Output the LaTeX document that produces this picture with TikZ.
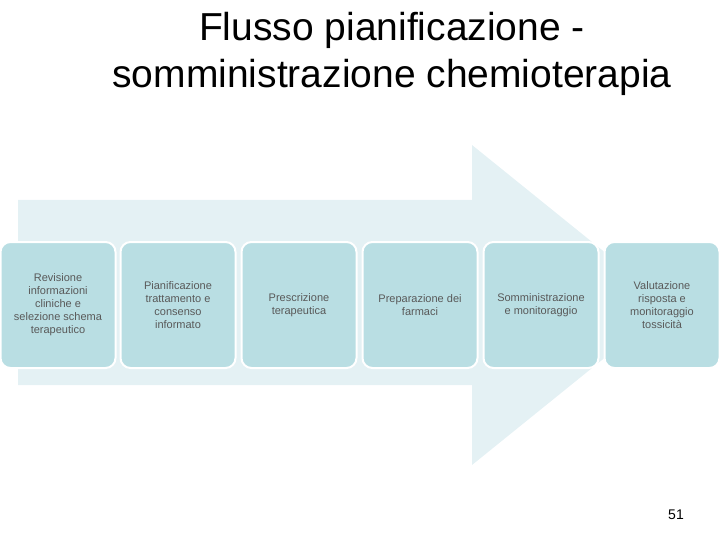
\documentclass[tikz,border=0pt]{standalone}
\usepackage{fontspec}
\setmainfont{Liberation Sans}
\begin{document}
\begin{tikzpicture}[x=1pt,y=-1pt,
 box/.style={draw=white,line width=2pt,fill=boxc,rounded corners=10pt,minimum width=115pt,minimum height=126pt,align=center,font=\fontsize{11}{13}\selectfont,text=gray!70!black}]
\definecolor{boxc}{HTML}{B9DEE3}
\definecolor{arr}{HTML}{E4F1F4}
\useasboundingbox (0,0) rectangle (720,540);
\fill[arr] (18,200) -- (472,200) -- (472,145) -- (670,305) -- (472,465) -- (472,385) -- (18,385) -- cycle;
\node[font=\fontsize{39}{47}\selectfont,align=center] (t) at (392,54) {Flusso pianificazione -\\somministrazione chemioterapia};
\node[box] (b1) at (58,305) {Revisione\\informazioni\\cliniche e\\selezione schema\\terapeutico};
\node[box] (b2) at (178,305) {Pianificazione\\trattamento e\\consenso\\informato};
\node[box] (b3) at (299,305) {Prescrizione\\terapeutica};
\node[box] (b4) at (420,305) {Preparazione dei\\farmaci};
\node[box] (b5) at (541,305) {Somministrazione\\e monitoraggio};
\node[box] (b6) at (662,305) {Valutazione\\risposta e\\monitoraggio\\tossicità};
\node[font=\fontsize{14}{16}\selectfont] (n) at (676,515) {51};
\end{tikzpicture}
\end{document}
